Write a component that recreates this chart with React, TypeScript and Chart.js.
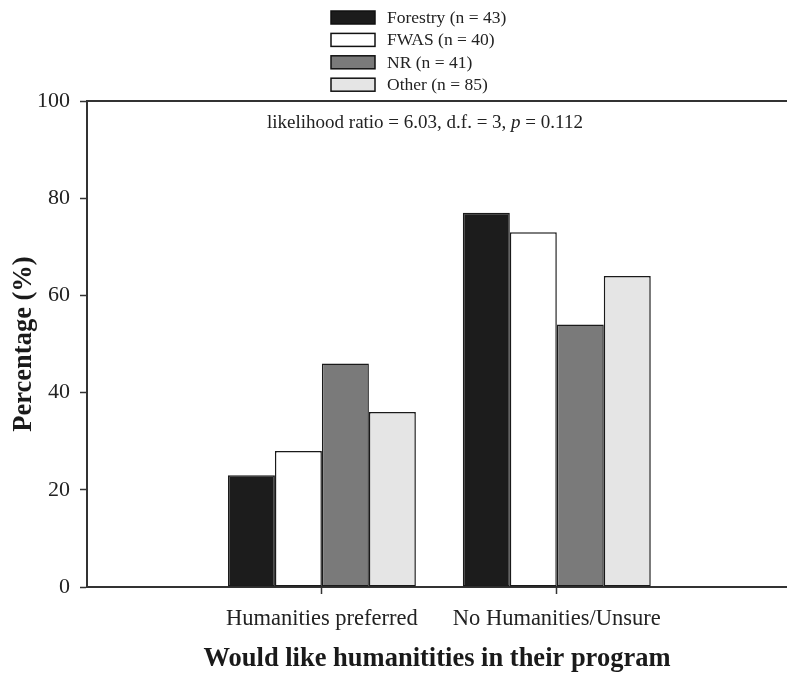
import React, { useEffect, useRef } from "react";
import { Chart, registerables } from "chart.js";

Chart.register(...registerables);

const categories = ["Humanities preferred", "No Humanities/Unsure"];
const seriesLabels = ["Forestry (n = 43)", "FWAS (n = 40)", "NR (n = 41)", "Other (n = 85)"];
const forestry = [23, 77];
const fwas = [28, 73];
const nr = [46, 54];
const other = [36, 64];
const seriesColors = ["#1c1c1c", "#ffffff", "#7a7a7a", "#e5e5e5"];
const yTicks = [0, 20, 40, 60, 80, 100];
const annotationParts = [
  { text: "likelihood ratio = 6.03, d.f. = 3, ", italic: false },
  { text: "p", italic: true },
  { text: " = 0.112", italic: false },
];

const FONT = "'Liberation Serif', 'Times New Roman', serif";
const INK = "#222222";

export default function App() {
  const ref = useRef<HTMLCanvasElement | null>(null);

  useEffect(() => {
    document.body.style.margin = "0";
    const canvas = ref.current;
    if (!canvas) return;
    const seriesValues = [forestry, fwas, nr, other];

    const decorPlugin = {
      id: "decor",
      afterDraw(chart: any) {
        const { ctx, chartArea } = chart;
        ctx.save();
        // top frame line
        ctx.strokeStyle = "#333333";
        ctx.lineWidth = 2;
        ctx.beginPath();
        ctx.moveTo(chartArea.left, chartArea.top);
        ctx.lineTo(chartArea.right, chartArea.top);
        ctx.stroke();
        // legend
        chart.data.datasets.forEach((ds: any, i: number) => {
          const y = 11 + i * 22.4;
          ctx.fillStyle = ds.backgroundColor;
          ctx.fillRect(331, y, 44, 13);
          ctx.strokeStyle = "#111111";
          ctx.lineWidth = 1.5;
          ctx.strokeRect(331, y, 44, 13);
          ctx.fillStyle = INK;
          ctx.font = `17.5px ${FONT}`;
          ctx.textBaseline = "middle";
          ctx.textAlign = "left";
          ctx.fillText(ds.label, 387, y + 7.5);
        });
        // annotation
        let x = 267;
        ctx.textBaseline = "middle";
        ctx.textAlign = "left";
        ctx.fillStyle = INK;
        annotationParts.forEach((p) => {
          ctx.font = `${p.italic ? "italic " : ""}19px ${FONT}`;
          ctx.fillText(p.text, x, 123);
          x += ctx.measureText(p.text).width;
        });
        ctx.restore();
      },
    };

    const chart = new Chart(canvas, {
      type: "bar",
      data: {
        datasets: seriesLabels.map((label, i) => ({
          label,
          data: seriesValues[i].map((v, j) => ({ x: j + 1, y: v })),
          backgroundColor: seriesColors[i],
          borderColor: "#1a1a1a",
          borderWidth: 1.5,
          borderSkipped: false,
          categoryPercentage: 0.8,
          barPercentage: 1,
        })),
      },
      options: {
        animation: false,
        responsive: false,
        maintainAspectRatio: false,
        layout: { padding: { top: 101, right: 0, left: 0, bottom: 0 } },
        plugins: {
          legend: { display: false },
          tooltip: { enabled: false },
        },
        scales: {
          x: {
            type: "linear",
            min: 0,
            max: 2.98,
            offset: false,
            afterBuildTicks: (scale: any) => {
              scale.ticks = categories.map((_, i) => ({ value: i + 1 }));
            },
            afterFit: (scale: any) => {
              scale.height = 88;
            },
            ticks: {
              callback: (value: any) => categories[Number(value) - 1] ?? "",
              font: { family: FONT, size: 22.5 },
              color: INK,
              padding: 12,
              maxRotation: 0,
              autoSkip: false,
            },
            grid: {
              display: true,
              offset: false,
              drawOnChartArea: false,
              drawTicks: true,
              tickLength: 7,
              tickColor: "#333333",
              tickWidth: 1.5,
            },
            border: { display: true, color: "#333333", width: 2 },
            title: {
              display: true,
              text: "Would like humanitities in their program",
              font: { family: FONT, size: 26.5, weight: "bold" },
              color: "#1a1a1a",
              padding: { top: 0, bottom: 0 },
            },
          },
          y: {
            min: 0,
            max: 100,
            afterBuildTicks: (scale: any) => {
              scale.ticks = yTicks.map((v) => ({ value: v }));
            },
            afterFit: (scale: any) => {
              scale.width = 87;
            },
            ticks: {
              font: { family: FONT, size: 22 },
              color: INK,
              padding: 10,
            },
            grid: {
              display: true,
              drawOnChartArea: false,
              drawTicks: true,
              tickLength: 7,
              tickColor: "#333333",
              tickWidth: 1.5,
            },
            border: { display: true, color: "#333333", width: 2 },
            title: {
              display: true,
              text: "Percentage (%)",
              font: { family: FONT, size: 26.5, weight: "bold" },
              color: "#1a1a1a",
              padding: { top: 8, bottom: 0 },
            },
          },
        },
      },
      plugins: [decorPlugin],
    } as any);

    return () => chart.destroy();
  }, []);

  return (
    <div style={{ width: 787, height: 675 }}>
      <canvas ref={ref} width={787} height={675} style={{ display: "block", width: 787, height: 675 }} />
    </div>
  );
}
